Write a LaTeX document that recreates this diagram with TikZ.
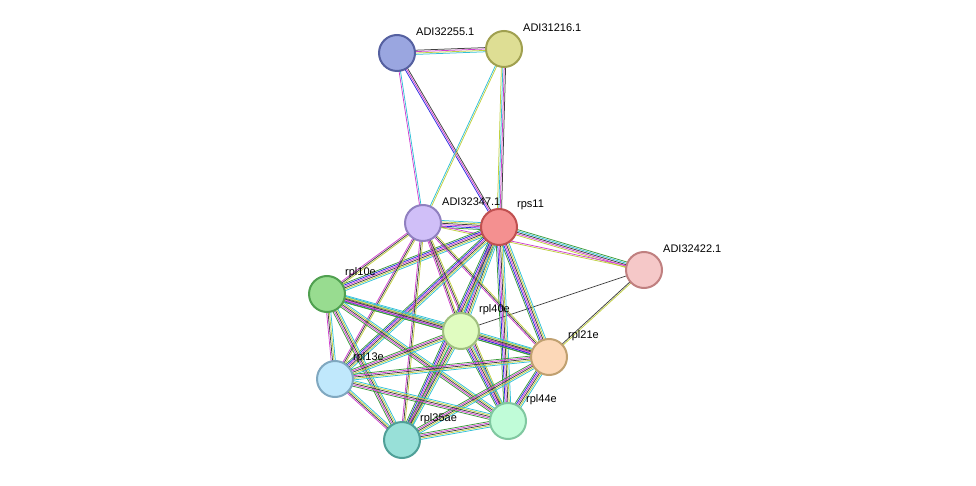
\documentclass[tikz,border=0pt]{standalone}
\usepackage{fontspec}
\setmainfont{Liberation Sans}
\usetikzlibrary{calc}
\definecolor{qg}{HTML}{3A9A3A}
\definecolor{qb}{HTML}{2A2AE0}
\definecolor{qk}{HTML}{404040}
\definecolor{qm}{HTML}{D040D0}
\definecolor{qc}{HTML}{30C0D8}
\definecolor{qy}{HTML}{C0D040}
\newcommand\ed[3]{\def\nn{0}\foreach \c in {#3}{\pgfmathtruncatemacro\t{\nn+1}\global\let\nn\t}%
 \foreach \c [count=\i] in {#3}{\pgfmathsetmacro\o{(\i-(\nn+1)/2)*1.4}%
 \draw[draw=\c,line width=0.75pt] ($(#1)!\o pt!90:(#2)$) -- ($(#2)!\o pt!-90:(#1)$);}}
\tikzset{prot/.style={circle,minimum size=36pt,inner sep=0pt,line width=2pt},
 lab/.style={anchor=west,font=\fontsize{11}{13}\selectfont,inner sep=0pt}}
\begin{document}
\begin{tikzpicture}[x=1pt,y=-1pt]
\useasboundingbox (0,0) rectangle (976,486);
\coordinate (a) at (397,53);
\coordinate (b) at (504,49);
\coordinate (c) at (423,223);
\coordinate (r) at (499,227);
\coordinate (d) at (644,270);
\coordinate (e) at (327,294);
\coordinate (f) at (461,331);
\coordinate (g) at (549,357);
\coordinate (h) at (335,379);
\coordinate (i) at (508,421);
\coordinate (j) at (402,440);
\ed{a}{b}{qc,qy,qm,qk}
\ed{a}{c}{qm,qc}
\ed{a}{r}{qb,qm,qk}
\ed{b}{c}{qc,qy}
\ed{b}{r}{qy,qc,qm,qk}
\ed{c}{r}{qg,qb,qm,qk,qy,qc}
\ed{r}{d}{qy,qm,qk,qc,qg}
\ed{c}{d}{qy,qm}
\ed{f}{d}{qk}
\ed{g}{d}{qy,qk}
\foreach \x in {e,f,g,h,i,j}{\ed{r}{\x}{qg,qb,qm,qk,qy,qc}\ed{c}{\x}{qm,qk,qy}}
\ed{e}{f}{qg,qb,qm,qk,qy,qc}
\ed{e}{g}{qg,qm,qk,qy,qc}
\ed{e}{h}{qm,qk,qy,qc}
\ed{e}{i}{qg,qm,qk,qy,qc}
\ed{e}{j}{qg,qm,qk,qy,qc}
\ed{f}{g}{qg,qb,qm,qk,qy,qc}
\ed{f}{h}{qg,qm,qk,qy,qc}
\ed{f}{i}{qg,qb,qm,qk,qy,qc}
\ed{f}{j}{qg,qm,qk,qy,qc}
\ed{g}{h}{qg,qm,qk,qy,qc}
\ed{g}{i}{qg,qb,qm,qk,qy,qc}
\ed{g}{j}{qg,qm,qk,qy,qc}
\ed{h}{i}{qg,qm,qk,qy,qc}
\ed{h}{j}{qm,qk,qy,qc}
\ed{i}{j}{qg,qm,qk,qy,qc}
\node[prot,fill={rgb,255:red,154;green,166;blue,224},draw={rgb,255:red,85;green,96;blue,160}] (na) at (a) {};
\node[prot,fill={rgb,255:red,222;green,222;blue,148},draw={rgb,255:red,160;green,160;blue,80}] (nb) at (b) {};
\node[prot,fill={rgb,255:red,208;green,191;blue,248},draw={rgb,255:red,144;green,128;blue,192}] (nc) at (c) {};
\node[prot,fill={rgb,255:red,244;green,144;blue,144},draw={rgb,255:red,192;green,80;blue,80}] (nr) at (r) {};
\node[prot,fill={rgb,255:red,245;green,200;blue,200},draw={rgb,255:red,192;green,128;blue,128}] (nd) at (d) {};
\node[prot,fill={rgb,255:red,152;green,220;blue,144},draw={rgb,255:red,80;green,160;blue,80}] (ne) at (e) {};
\node[prot,fill={rgb,255:red,224;green,252;blue,192},draw={rgb,255:red,160;green,192;blue,128}] (nf) at (f) {};
\node[prot,fill={rgb,255:red,252;green,216;blue,184},draw={rgb,255:red,192;green,160;blue,112}] (ng) at (g) {};
\node[prot,fill={rgb,255:red,192;green,232;blue,252},draw={rgb,255:red,128;green,168;blue,192}] (nh) at (h) {};
\node[prot,fill={rgb,255:red,192;green,252;blue,216},draw={rgb,255:red,128;green,200;blue,160}] (ni) at (i) {};
\node[prot,fill={rgb,255:red,152;green,224;blue,216},draw={rgb,255:red,80;green,160;blue,152}] (nj) at (j) {};
\node[lab] at (416,32) {ADI32255.1};
\node[lab] at (523,28) {ADI31216.1};
\node[lab] at (442,202) {ADI32347.1};
\node[lab] at (517,205) {rps11};
\node[lab] at (663,249) {ADI32422.1};
\node[lab] at (345,273) {rpl10e};
\node[lab] at (479,310) {rpl40e};
\node[lab] at (568,336) {rpl21e};
\node[lab] at (353,358) {rpl13e};
\node[lab] at (526,400) {rpl44e};
\node[lab] at (420,419) {rpl35ae};
\end{tikzpicture}
\end{document}
